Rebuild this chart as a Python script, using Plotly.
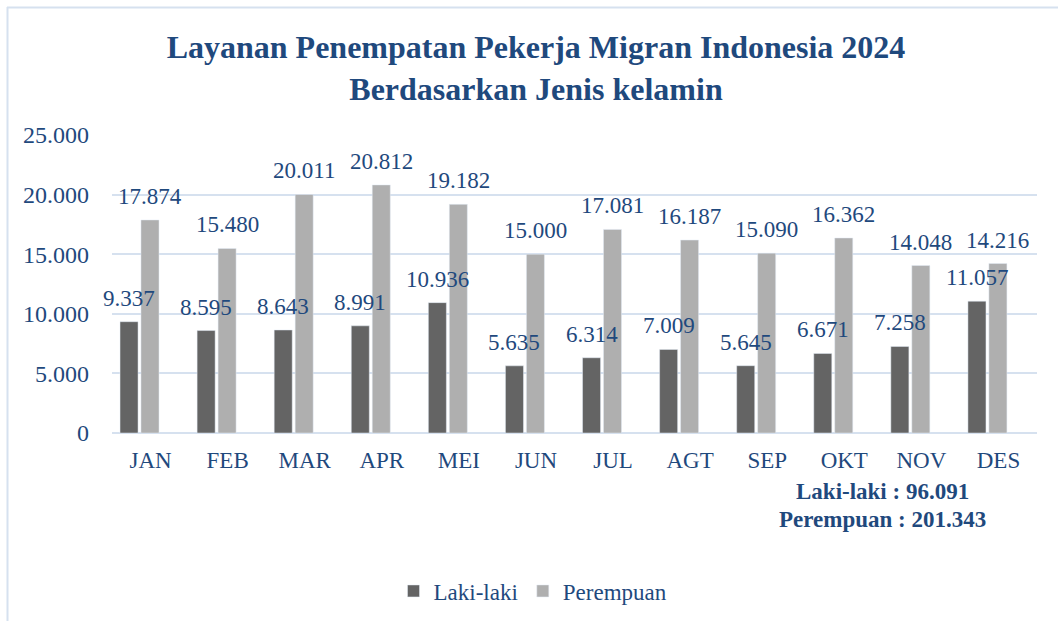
import plotly.graph_objects as go

months = ["JAN", "FEB", "MAR", "APR", "MEI", "JUN", "JUL", "AGT", "SEP", "OKT", "NOV", "DES"]
laki = [9337, 8595, 8643, 8991, 10936, 5635, 6314, 7009, 5645, 6671, 7258, 11057]
perempuan = [17874, 15480, 20011, 20812, 19182, 15000, 17081, 16187, 15090, 16362, 14048, 14216]
total_laki = "96.091"
total_perempuan = "201.343"
y_ticks = [0, 5000, 10000, 15000, 20000, 25000]

BLUE = "#1F497D"
FONT = "Liberation Serif"

L, R, T, B = 112, 21, 135, 188
W, H = 1058, 621
PW, PH = W - L - R, H - T - B


def px_x(p):
    return (p - L) / PW


def px_y(p):
    return (H - B - p) / PH


def fmt(v):
    return f"{v:,}".replace(",", ".")


fig = go.Figure()
fig.add_trace(go.Bar(name="Laki-laki", x=months, y=laki, marker_color="#646464",
                     width=0.234, offset=-0.396))
fig.add_trace(go.Bar(name="Perempuan", x=months, y=perempuan, marker_color="#AFAFAF",
                     width=0.234, offset=-0.124))

annotations = []
for m, a, b in zip(months, laki, perempuan):
    annotations.append(dict(x=m, y=a, text=fmt(a), xshift=-21.5, yshift=9, showarrow=False,
                            xanchor="center", yanchor="bottom",
                            font=dict(family=FONT, size=23, color=BLUE)))
    annotations.append(dict(x=m, y=b, text=fmt(b), xshift=-0.5, yshift=9, showarrow=False,
                            xanchor="center", yanchor="bottom",
                            font=dict(family=FONT, size=23, color=BLUE)))

annotations.append(dict(xref="paper", yref="paper", x=px_x(882), y=px_y(491),
                        xanchor="center", yanchor="middle",
                        text=f"<b>Laki-laki : {total_laki}</b>", showarrow=False,
                        font=dict(family=FONT, size=23, color=BLUE)))
annotations.append(dict(xref="paper", yref="paper", x=px_x(882), y=px_y(519),
                        xanchor="center", yanchor="middle",
                        text=f"<b>Perempuan : {total_perempuan}</b>", showarrow=False,
                        font=dict(family=FONT, size=23, color=BLUE)))

fig.update_layout(
    width=W, height=H,
    margin=dict(l=L, r=R, t=T, b=B, autoexpand=False),
    paper_bgcolor="white", plot_bgcolor="white",
    title=dict(text="<b>Layanan Penempatan Pekerja Migran Indonesia 2024<br>Berdasarkan Jenis kelamin</b>",
               x=536 / W, xref="container", xanchor="center",
               y=1 - 58 / H, yref="container", yanchor="top",
               font=dict(family=FONT, size=32, color=BLUE)),
    showlegend=True,
    legend=dict(orientation="h", x=px_x(533), xanchor="center", y=px_y(591), yanchor="middle",
                font=dict(family=FONT, size=23, color=BLUE), itemwidth=30,
                traceorder="normal"),
    annotations=annotations,
    xaxis=dict(showgrid=False, showline=False, ticks="", ticklabelstandoff=11,
               tickfont=dict(family=FONT, size=23, color=BLUE), range=[-0.5, 11.5]),
    yaxis=dict(range=[0, 25000], tickvals=y_ticks, ticktext=[fmt(v) for v in y_ticks],
               showgrid=True, gridcolor="#D6E1EF", gridwidth=1.5, zeroline=True,
               zerolinecolor="#D6E1EF", zerolinewidth=1.5, ticks="", ticklabelstandoff=22,
               tickfont=dict(family=FONT, size=24, color=BLUE)),
    shapes=[
        dict(type="line", xref="paper", yref="paper", x0=px_x(7), x1=px_x(1060),
             y0=px_y(7.5), y1=px_y(7.5), line=dict(color="#D6E1EF", width=2)),
        dict(type="line", xref="paper", yref="paper", x0=px_x(7.5), x1=px_x(7.5),
             y0=px_y(7), y1=px_y(625), line=dict(color="#D6E1EF", width=2)),
    ],
)

fig.write_html("out.html", config={"displayModeBar": False},
               post_script="document.body.style.margin='0px';")
